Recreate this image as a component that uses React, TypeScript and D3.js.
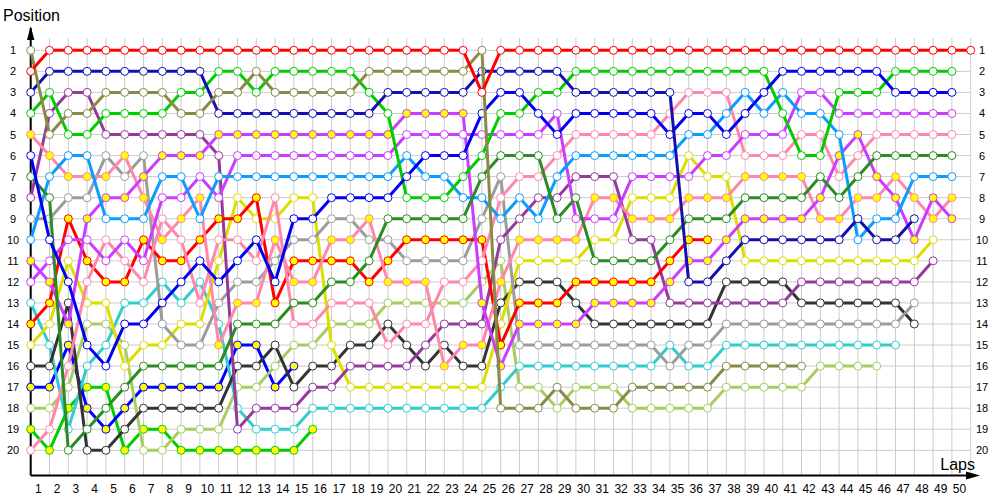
import React from 'react';
import * as d3 from 'd3';

// Tick labels
const lapLabels = [1,2,3,4,5,6,7,8,9,10,11,12,13,14,15,16,17,18,19,20,21,22,23,24,25,26,27,28,29,30,31,32,33,34,35,36,37,38,39,40,41,42,43,44,45,46,47,48,49,50];
const positionLabels = [1,2,3,4,5,6,7,8,9,10,11,12,13,14,15,16,17,18,19,20];

// Position per lap (index 0 = start grid)
const redA = [2,1,1,1,1,1,1,1,1,1,1,1,1,1,1,1,1,1,1,1,1,1,1,1,3,1,1,1,1,1,1,1,1,1,1,1,1,1,1,1,1,1,1,1,1,1,1,1,1,1,1];
const redB = [14,13,9,11,12,12,10,11,11,10,9,9,8,13,11,11,11,11,12,11,10,10,10,10,10,15,13,13,13,12,12,12,12,12,11,10,10];
const navy = [3,2,2,2,2,2,2,2,2,2,4,4,4,4,4,4,4,4,4,3,3,3,3,3,2,2,2,2,2,3,3,3,3,3,3,12,12,11,10,10,10,10,10,10,9,10,10,9];
const blueA = [6,10,12,15,16,14,14,13,12,11,12,11,10,12,9,9,8,8,8,8,7,6,6,6,4,3,3,4,5,4,4,4,4,4,5,4,4,5,4,3,2,2,2,2,2,2,3,3,3,3];
const blueB = [17,17,15,18,19,18,17,17,17,17,17,15,15,17,16];
const greenA = [4,3,5,5,4,4,4,4,3,3,2,2,3,2,2,2,2,2,3,4,8,8,8,7,6,4,4,3,3,2,2,2,2,2,2,2,2,2,2,2,4,6,6,3,3,3,2,2,2,2];
const greenB = [19,20,18,17,17,20,19,19,20,20,20,20,20,20,20,19];
const darkGreen = [7,8,20,19,18,17,16,16,16,16,16,14,14,14,13,13,12,12,11,9,9,9,9,9,7,6,6,6,9,8,11,11,11,11,10,9,9,9,8,8,8,8,7,8,7,6,6,6,6,6];
const olive = [1,5,4,4,3,3,3,3,4,4,3,3,2,3,3,3,3,3,2,2,2,2,2,2,1,18,18,18,17,18,18,18,17,17,17,17,17,16,16,16,16,16];
const purple = [8,4,3,3,5,5,5,5,5,5,6,19,18,18,18,17,17,16,16,16,16,15,14,14,14,10,9,8,8,7,7,7,10,10,13,13,13,13,13,13,13,12,12,12,12,12,12,12,11];
const violetA = [12,11,10,10,11,10,11,8,8,7,8,6,6,6,6,6,6,6,6,6,5,5,5,5,5,5,5,5,4,9,9,9,7,7,7,7,6,6,5,5,5,3,3,4,4,4,4,4,4,4];
const violetB = [11,12,14,9,8,8,7,6,6,6,5,5,5,5,5,5,5,5,5,5,4,4,4,4,13,16,14,14,14,14,13,13,13,13,12,11,11,10,9,9,9,9,8,6,5,7,8,10,8,9];
const pinkA = [20,19,16,12,10,11,12,9,10,13,10,10,11,8,14,14,13,13,13,15,14,14,12,12,11,8,7,7,6,5,5,5,5,5,4,3,3,3,6,6,6,5,5,7,6,5,5,5,5,5];
const pinkB = [5,6,7,7,7,6,8,10,9,8,15,13,13,10,12,12,10,10,9,12,12,12,16,15,15,12,10,10,10,10,8,8,9,9,9,8,8,8,7,7,7,7,9,9,8,8,7,8,9,8];
const lightBlue = [10,7,6,6,9,9,9,7,7,9,7,7,7,7,7,7,7,7,7,7,6,7,7,8,8,9,8,9,7,6,6,6,6,6,6,5,5,4,3,4,3,4,4,5,10,9,9,7,7,7];
const gray = [9,9,8,8,6,7,6,14,15,15,13,12,12,11,10,10,9,9,10,10,11,11,11,11,9,7,15,15,15,15,15,15,15,15,16,15,15,14,14,14,14,14,14,14,14,14,14,13];
const yellowLine = [15,14,11,13,13,16,15,15,14,14,11,8,9,9,8,8,15,17,17,17,17,17,17,17,17,14,11,11,11,11,10,10,8,8,8,6,7,7,11,11,11,11,11,11,11,11,11,11,10];
const teal = [13,15,19,16,15,13,13,12,13,12,14,18,19,19,19,18,18,18,18,18,18,18,18,18,18,17,16,16,16,16,16,16,16,16,15,16,16,15,15,15,15,15,15,15,15,15,15];
const lightGreen = [18,18,17,14,14,15,20,20,19,19,19,17,17,16,15,15,14,14,14,13,13,13,13,13,12,11,17,17,18,17,17,17,18,18,18,18,18,17,17,17,17,17,16,16,16,16];
const black = [16,16,13,20,20,19,18,18,18,18,18,16,16,15,17,16,16,15,15,14,15,16,15,16,16,13,12,12,12,13,14,14,14,14,14,14,14,12,12,12,12,13,13,13,13,13,13,14];

const YELLOW = '#ffff00';
const WHITE = '#ffffff';

// draw order (last on top)
const series = [
  { id: 'greenB', color: '#00cc00', fill: YELLOW, data: greenB },
  { id: 'blueB', color: '#0000ff', fill: YELLOW, data: blueB },
  { id: 'lightGreen', color: '#a8cc60', fill: WHITE, data: lightGreen },
  { id: 'teal', color: '#33cccc', fill: WHITE, data: teal },
  { id: 'black', color: '#333333', fill: WHITE, data: black },
  { id: 'yellowLine', color: '#dddd00', fill: WHITE, data: yellowLine },
  { id: 'gray', color: '#9c9c9c', fill: WHITE, data: gray },
  { id: 'purple', color: '#933a9c', fill: WHITE, data: purple },
  { id: 'redB', color: '#ff0000', fill: YELLOW, data: redB },
  { id: 'pinkB', color: '#ff88aa', fill: YELLOW, data: pinkB },
  { id: 'pinkA', color: '#ff88aa', fill: WHITE, data: pinkA },
  { id: 'violetB', color: '#cc3cff', fill: YELLOW, data: violetB },
  { id: 'violetA', color: '#cc3cff', fill: WHITE, data: violetA },
  { id: 'lightBlue', color: '#0a9cff', fill: WHITE, data: lightBlue },
  { id: 'darkGreen', color: '#2a8c22', fill: WHITE, data: darkGreen },
  { id: 'greenA', color: '#00cc00', fill: WHITE, data: greenA },
  { id: 'blueA', color: '#0000ee', fill: WHITE, data: blueA },
  { id: 'navy', color: '#1410b0', fill: WHITE, data: navy },
  { id: 'olive', color: '#8a8a48', fill: WHITE, data: olive },
  { id: 'redA', color: '#ff0000', fill: WHITE, data: redA },
];

const W = 1000;
const H = 500;
const x = d3.scaleLinear().domain([0, 50]).range([30.7, 970.7]);
const y = d3.scaleLinear().domain([1, 20]).range([50.3, 450.3]);
const axisY = 475.5;
const font = '"Liberation Sans", Arial, sans-serif';

export default function App() {
  const line = d3.line<number>().x((_, i) => x(i)).y((d) => y(d));
  return (
    <svg width={W} height={H} style={{ position: 'fixed', left: 0, top: 0, display: 'block', background: '#fff' }}>
      <rect x={0} y={0} width={W} height={H} fill="#fff" />
      {/* grid */}
      <g stroke="#cccccc" strokeWidth={1}>
        {lapLabels.map((k) => (
          <line key={'v' + k} x1={x(k)} x2={x(k)} y1={38} y2={axisY} />
        ))}
        {positionLabels.map((p) => (
          <line key={'h' + p} x1={x(0)} x2={x(50)} y1={y(p)} y2={y(p)} />
        ))}
      </g>
      {/* axes */}
      <line x1={x(0)} x2={x(0)} y1={28} y2={axisY} stroke="#000" strokeWidth={2} />
      <line x1={x(0)} x2={970} y1={axisY} y2={axisY} stroke="#000" strokeWidth={2} />
      <polygon points={`966,471.5 980,${axisY} 966,479.5`} fill="#000" />
      <polygon points={`27,40 ${x(0)},26 34.4,40`} fill="#000" />
      {/* labels */}
      <text x={3} y={21} fontFamily={font} fontSize={16} fill="#000">Position</text>
      <text x={975} y={470} fontFamily={font} fontSize={16} fill="#000" textAnchor="end">Laps</text>
      <g fontFamily={font} fontSize={11} fill="#000">
        {positionLabels.map((p) => (
          <text key={'l' + p} x={13} y={y(p) + 4} textAnchor="middle">{p}</text>
        ))}
        {positionLabels.map((p) => (
          <text key={'r' + p} x={982} y={y(p) + 4} textAnchor="middle">{p}</text>
        ))}
      </g>
      <g fontFamily={font} fontSize={12} fill="#000">
        {lapLabels.map((k) => (
          <text key={'x' + k} x={x(k) - 11.2} y={493} textAnchor="middle">{k}</text>
        ))}
      </g>
      {/* series */}
      {series.map((s) => (
        <g key={s.id}>
          <path d={line(s.data) || ''} fill="none" stroke={s.color} strokeWidth={3} strokeLinejoin="round" />
          {s.data.map((p, i) => (
            <circle key={i} cx={x(i)} cy={y(p)} r={4} fill={s.fill} stroke={s.color} strokeWidth={1} />
          ))}
        </g>
      ))}
    </svg>
  );
}
